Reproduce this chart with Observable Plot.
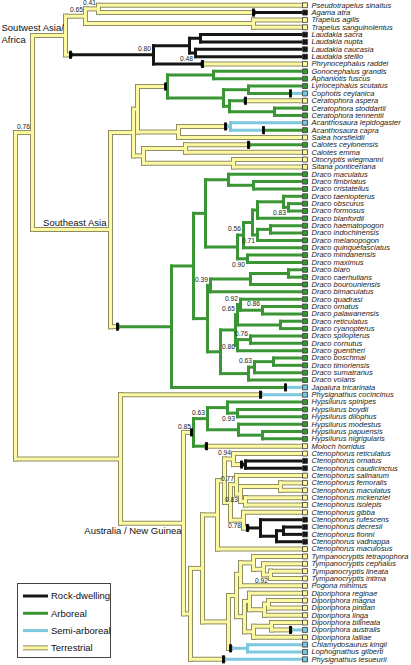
<!DOCTYPE html>
<html><head><meta charset="utf-8">
<script src="https://cdn.jsdelivr.net/npm/d3@7"></script>
<script src="https://cdn.jsdelivr.net/npm/@observablehq/plot@0.6"></script>
<style>
body{margin:0;background:#fff;}
#chart svg{display:block;}
</style></head><body><div id="chart"></div>
<script>
// ---------------- DATA ----------------
const taxa = [
"Pseudotrapelus sinaitus","Agama atra","Trapelus agilis","Trapelus sanguinolentus",
"Laudakia sacra","Laudakia nupta","Laudakia caucasia","Laudakia stellio","Phrynocephalus raddei",
"Gonocephalus grandis","Aphaniotis fuscus","Lyriocephalus scutatus","Cophotis ceylanica",
"Ceratophora aspera","Ceratophora stoddartii","Ceratophora tennentii",
"Acanthosaura lepidogaster","Acanthosaura capra","Salea horsfieldii",
"Calotes ceylonensis","Calotes emma","Otocryptis wiegmanni","Sitana ponticeriana",
"Draco maculatus","Draco fimbriatus","Draco cristatellus","Draco taeniopterus","Draco obscurus",
"Draco formosus","Draco blanfordii","Draco haematopogon","Draco indochinensis","Draco melanopogon",
"Draco quinquefasciatus","Draco mindanensis","Draco maximus","Draco biaro","Draco caerhulians",
"Draco bourouniensis","Draco bimaculatus","Draco quadrasi","Draco ornatus","Draco palawanensis",
"Draco reticulatus","Draco cyanopterus","Draco spilopterus","Draco cornutus","Draco guentheri",
"Draco boschmai","Draco timoriensis","Draco sumatranus","Draco volans",
"Japalura tricarinata","Physignathus cocincinus",
"Hypsilurus spinipes","Hypsilurus boydii","Hypsilurus dilophus","Hypsilurus modestus",
"Hypsilurus papuensis","Hypsilurus nigrigularis","Moloch horridus",
"Ctenophorus reticulatus","Ctenophorus ornatus","Ctenophorus caudicinctus","Ctenophorus salinarum",
"Ctenophorus femoralis","Ctenophorus maculatus","Ctenophorus mckenziei","Ctenophorus isolepis",
"Ctenophorus gibba","Ctenophorus rufescens","Ctenophorus decresii","Ctenophorus fionni",
"Ctenophorus vadnappa","Ctenophorus maculosus",
"Tympanocryptis tetrapophora","Tympanocryptis cephalus","Tympanocryptis lineata","Tympanocryptis intima",
"Pogona minimus","Diporiphora reginae","Diporiphora magna","Diporiphora pindan","Diporiphora linga",
"Diporiphora bilineata","Diporiphora australis","Diporiphora lalliae",
"Chlamydosaurus kingii","Lophognathus gilberti","Physignathus lesueurii"];

// habit of each tip, one letter per taxon (R rock, A arboreal, S semi-arboreal, T terrestrial)
const tipHabit = "TRTTRRRRT" + "AAAS" + "TAAS" + "AT" + "ATTT" + "A".repeat(29) + "SS" +
                 "AAAAAA" + "TT" + "RR" + "TTTTTT" + "RRRR" + "T" + "TTTTTTTTTT" + "STSSS";

const habitCodes  = ["R", "A", "S", "T"];
const habitNames  = ["Rock-dwelling", "Arboreal", "Semi-arboreal", "Terrestrial"];
const habitColors = ["#161616", "#3a9634", "#7dc7df", "#fdf9a3"];
const terrestrialEdge = "#8f8d62";
const tipDepth = 300;

// clades: (children)depth+habit, "^d" = habit change (bar) on the branch at depth d
const swAsiaAfrica = "(((0,1^253)98T,(2,3)253T)85T,(((4,5)200R,(6,7)195R)189R,8^202)153R^70)65T";
const seAsiaUpper  = "((((9,10)213A,((11,12^290)248A,(13^245,(14,15)274A)229A)223A)167A^165," +
                     "((16,17^263)230S^225,18)178T)137T,((19^248,20)185T,(21,22)233T)143T)133T";
const dracoUpper   = "((23,(24,25)253A)228A,(((((26,(27,28)288A)283A,29)257A,((30,31)270A,32)257A)252A,33)243A," +
                     "(34,35)247A)237A)205A";
const dracoLower   = "((((36,37)288A,38)250A,39)210A,((((40,(41,42)262A)240A,(43,44)280A)237A," +
                     "((45,46)250A,47)237A)235A,(((48,49)273A,50)254A,51)248A)220A)207A";
const draco        = `((${dracoUpper},${dracoLower})193A,52^285)171A^117`;
const seAsia       = `(${seAsiaUpper},${draco})110T`;
const hypsiMoloch  = "(((54,(55,56)237A)227A,(57,(58,59)262A)238A)207A,60^206)193A^191";
const ctenophorus  = "(((61,(62,63)245R^241)233T,((64,((65,66)280T,(67,68)245T)240T)236T," +
                     "(69,(70,((71,72)283R,73)276R)260R^247)243T)230T)224T,74)217T";
const amphibolurines = "((((75,(76,(77,78)270T)263T)253T,79)240T,((80,((81,82)268T,83)264T)249T," +
                     "((84,85^290)271T,86)253T)244T)236T,(87,88)247S^230)228T";
const australia    = `(${hypsiMoloch},((${ctenophorus},${amphibolurines})202T,89^223)190T)183T`;
const treeNewick   = `((${swAsiaAfrica},${seAsia})32T,(53^260,${australia})120T)15T`;

// support values: value, clade (first tip, last tip), label side (a above, b below, l left)
const supportValues = ["0.76","0.65","0.41","0.80","0.48","0.83","0.56","0.71","0.90","0.39","0.92","0.86",
                       "0.65","0.76","0.86","0.63","0.85","0.63","0.93","0.94","0.77","0.83","0.78","0.92"];
const supportClades = [[0,52],[0,3],[0,1],[4,8],[6,7],[27,28],[26,33],[30,32],[34,35],[36,39],[40,42],[41,42],
                       [40,44],[45,46],[45,47],[48,50],[54,60],[54,59],[55,56],[61,63],[64,68],[65,68],[69,73],[77,78]];
const supportSides  = ["a","a","a","a","b","b","a","b","b","a","a","a",
                       "a","a","l","a","a","a","b","a","a","b","b","b"];

const regionNames  = ["Soutwest Asia/\nAfrica", "Southeast Asia", "Australia / New Guinea"];
const regionClades = [[0,8],[9,52],[54,89]];

// ---------------- TREE ----------------
const habitColor = h => habitColors[habitCodes.indexOf(h)];
function parseTree(s) {
  let i = 0;
  const num = () => { const m = /^\d+(\.\d+)?/.exec(s.slice(i)); i += m[0].length; return +m[0]; };
  function node() {
    let n;
    if (s[i] === "(") {
      i++;
      const kids = [node()];
      while (s[i] === ",") { i++; kids.push(node()); }
      i++;
      n = {kids, x: num(), h: s[i++]};
    } else {
      const tip = num();
      n = {tip, x: tipDepth, h: tipHabit[tip]};
    }
    if (s[i] === "^") { i++; n.shift = num(); }
    return n;
  }
  return node();
}
const root = parseTree(treeNewick);
const nodes = [];
(function walk(n, parent) {
  n.parent = parent; nodes.push(n);
  if (n.kids) {
    n.kids.forEach(k => walk(k, n));
    const a = n.kids[0], b = n.kids[n.kids.length - 1];
    n.y = (a.y + b.y) / 2; n.lo = a.lo; n.hi = b.hi;
  } else { n.y = n.tip; n.lo = n.hi = n.tip; }
})(root, null);
const findClade = ([a, b]) => nodes.find(n => n.lo === a && n.hi === b);
const tips = nodes.filter(n => !n.kids);

const segs = [], bars = [];
for (const n of nodes) {
  if (n.parent) {
    const p = n.parent;
    if (n.shift != null) {
      segs.push({x1: p.x, x2: n.shift, y1: n.y, y2: n.y, h: p.h});
      segs.push({x1: n.shift, x2: n.x, y1: n.y, y2: n.y, h: n.h});
      bars.push({x: n.shift, y: n.y});
    } else segs.push({x1: p.x, x2: n.x, y1: n.y, y2: n.y, h: n.h});
  }
  if (n.kids) segs.push({x1: n.x, x2: n.x, y1: n.kids[0].y, y2: n.kids[n.kids.length - 1].y, h: n.h});
}
const terr = segs.filter(d => d.h === "T"), other = segs.filter(d => d.h !== "T");
const supports = supportValues.map((v, i) => ({v, node: findClade(supportClades[i]), side: supportSides[i]}))
  .map(d => ({v: d.v, x: d.node.x, y: d.node.y, side: d.side}));
const regions = regionNames.map((t, i) => { const n = findClade(regionClades[i]); return {t, x: n.x, y: n.y}; });

const font = "Liberation Sans, Arial, Helvetica, sans-serif";
const linkOpts = {x1: "x1", x2: "x2", y1: "y1", y2: "y2", strokeLinecap: "square"};
const supText = (side, dy) => Plot.text(supports.filter(d => d.side === side),
  {x: "x", y: "y", text: "v", textAnchor: "end", dx: -2.5, dy, fontSize: 6.7, fill: "#222", fontFamily: font});

const chart = Plot.plot({
  width: 411, height: 665, margin: 0,
  x: {domain: [0, 411], axis: null},
  y: {domain: [-0.64, 89.84], reverse: true, axis: null},
  style: {background: "#fff", fontFamily: font},
  marks: [
    Plot.link(terr, {...linkOpts, stroke: terrestrialEdge, strokeWidth: 5}),
    Plot.link(terr, {...linkOpts, stroke: habitColor("T"), strokeWidth: 3}),
    Plot.link(other, {...linkOpts, stroke: d => habitColor(d.h), strokeWidth: 3}),
    Plot.link(bars, {x1: "x", x2: "x", y1: d => d.y - 0.55, y2: d => d.y + 0.55, stroke: "#000", strokeWidth: 2.8}),
    Plot.dot(tips, {x: "x", y: "y", dx: 4.5, symbol: "square", r: 2.8, fill: d => habitColor(d.h), stroke: "#333", strokeWidth: 0.8}),
    Plot.text(tips, {x: "x", y: "y", text: d => taxa[d.tip], dx: 11, textAnchor: "start", fontSize: 7.5,
      fontStyle: "italic", fill: "#1a1a1a", fontFamily: font}),
    supText("a", -6), supText("b", 6), supText("l", 2),
    Plot.text(regions.slice(0, 1), {y: "y", text: "t", frameAnchor: "left", textAnchor: "start", dx: 1, dy: -2,
      lineHeight: 1.25, fontSize: 9.5, fill: "#111", fontFamily: font}),
    Plot.text(regions.slice(1, 2), {x: "x", y: "y", text: "t", textAnchor: "end", dx: -4, dy: -7, fontSize: 9.5, fill: "#111", fontFamily: font}),
    Plot.text(regions.slice(2, 3), {x: "x", y: "y", text: "t", textAnchor: "end", dx: -2, dy: 8, fontSize: 9.5, fill: "#111", fontFamily: font})
  ]
});

// legend box (bottom left)
const svg = d3.select(chart);
const lg = svg.append("g").attr("font-family", font).attr("font-size", 9.5).attr("text-anchor", "start");
lg.append("rect").attr("x", 17.5).attr("y", 583.5).attr("width", 93).attr("height", 74)
  .attr("fill", "#fff").attr("stroke", "#444");
habitNames.forEach((name, i) => {
  const y = 596 + i * 17.3;
  if (habitCodes[i] === "T") {
    lg.append("line").attr("x1", 23).attr("x2", 48).attr("y1", y).attr("y2", y).attr("stroke", terrestrialEdge).attr("stroke-width", 5);
  }
  lg.append("line").attr("x1", 23).attr("x2", 48).attr("y1", y).attr("y2", y).attr("stroke", habitColors[i]).attr("stroke-width", 3);
  lg.append("text").attr("x", 51).attr("y", y).attr("dy", "0.35em").attr("text-anchor", "start").attr("fill", "#111").text(name);
});
document.getElementById("chart").append(chart);
</script></body></html>
